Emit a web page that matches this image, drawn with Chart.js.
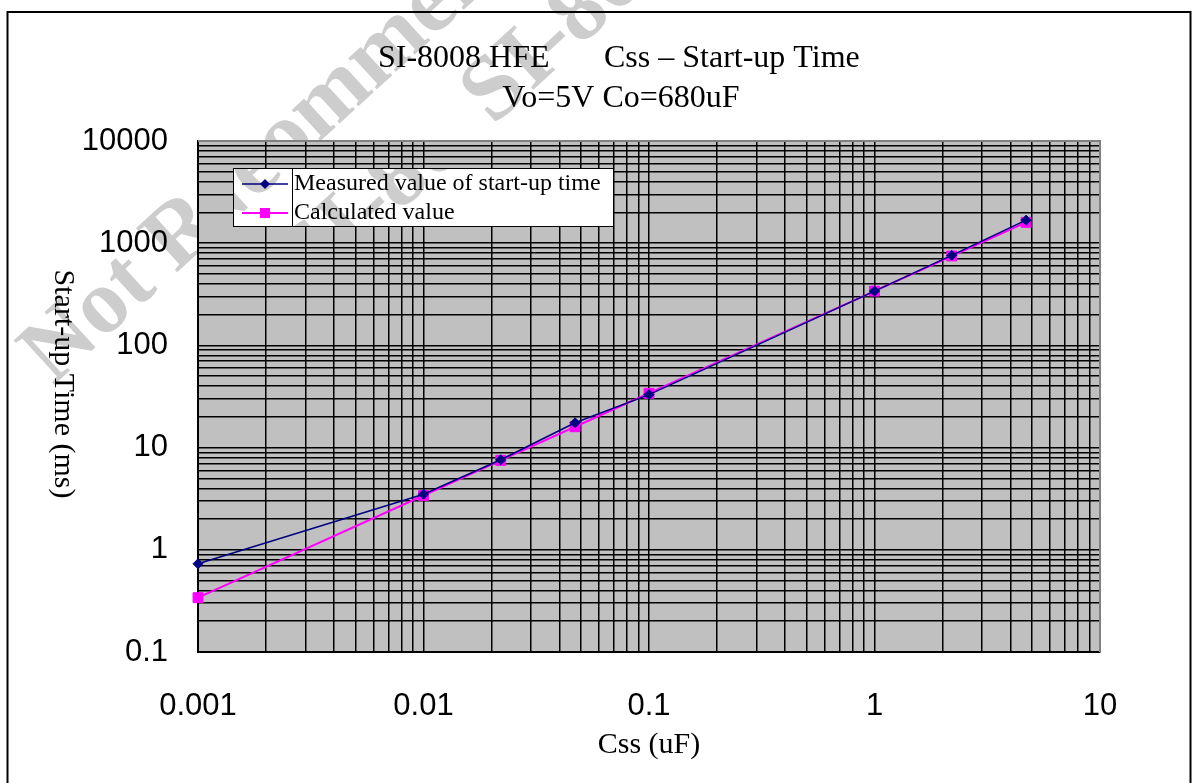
<!DOCTYPE html>
<html>
<head>
<meta charset="utf-8">
<script src="https://cdn.jsdelivr.net/npm/chart.js@4/dist/chart.umd.min.js"></script>
<style>
  html, body { margin: 0; padding: 0; background: #fff; }
</style>
</head>
<body>
<canvas id="startupChart" width="1194" height="783"></canvas>
<script>
// Css (uF) at each measured point
const cssValues = [0.001, 0.01, 0.022, 0.047, 0.1, 1, 2.2, 4.7];
// Start-up time (ms), measured
const measuredTimes = [0.73, 3.5, 7.6, 17.5, 33, 340, 760, 1680];
// Start-up time (ms), calculated
const calculatedTimes = [0.34, 3.4, 7.5, 16, 34, 340, 750, 1600];

const xTickLabels = ['0.001', '0.01', '0.1', '1', '10'];
const yTickLabels = ['0.1', '1', '10', '100', '1000', '10000'];
const seriesNames = ['Measured value of start-up time', 'Calculated value'];
const titleLeft = 'SI-8008 HFE';
const titleRight = 'Css \u2013 Start-up Time';
const subTitle = 'Vo=5V Co=680uF';
const xAxisTitle = 'Css (uF)';
const yAxisTitle = 'Start-up Time (ms)';

const serif = '"Liberation Serif", "Times New Roman", serif';
const sans = '"Liberation Sans", Arial, sans-serif';

// gridlines at 1..9 of every decade between first and last label
function logGrid(labels) {
  const lo = Math.round(Math.log10(Number(labels[0])));
  const hi = Math.round(Math.log10(Number(labels[labels.length - 1])));
  const vals = [];
  for (let e = lo; e < hi; e++) {
    for (let m = 1; m < 10; m++) vals.push(Number((m * Math.pow(10, e)).toPrecision(10)));
  }
  vals.push(Number(labels[labels.length - 1]));
  return vals;
}
function labelFor(labels, v) {
  const i = labels.map(Number).indexOf(v);
  return i >= 0 ? labels[i] : '';
}

function drawWatermark(c) {
  c.save();
  c.translate(53, 386);
  c.rotate(-42.5 * Math.PI / 180);
  c.fillStyle = '#cdcdcd';
  c.font = 'bold 92px ' + serif;
  c.fillText('Not Recommended for New Designs', 0, 0);
  c.fillText('SI-8008HFE', 500, 106);
  c.restore();
}

// watermark under everything, then the grey plot area
const backdrop = {
  id: 'backdrop',
  beforeDraw(chart) {
    const c = chart.ctx, a = chart.chartArea;
    drawWatermark(c);
    c.save();
    c.fillStyle = '#c0c0c0';
    c.fillRect(a.left, a.top, a.right - a.left, a.bottom - a.top);
    c.restore();
  }
};

const decorations = {
  id: 'decorations',
  afterDraw(chart) {
    const c = chart.ctx, a = chart.chartArea;
    c.save();
    // grey top/right frame of plot
    c.strokeStyle = '#808080';
    c.lineWidth = 2;
    c.beginPath();
    c.moveTo(a.left, a.top);
    c.lineTo(a.right, a.top);
    c.lineTo(a.right, a.bottom);
    c.stroke();

    // titles
    c.fillStyle = '#000';
    c.font = '32px ' + serif;
    c.textBaseline = 'alphabetic';
    c.textAlign = 'left';
    c.fillText(titleLeft, 378, 67);
    c.fillText(titleRight, 604, 67);
    c.textAlign = 'center';
    c.fillText(subTitle, 621, 107);

    c.font = '30px ' + serif;
    c.fillText(xAxisTitle, 649, 753);
    c.save();
    c.translate(55, 384);
    c.rotate(Math.PI / 2);
    c.fillText(yAxisTitle, 0, 0);
    c.restore();

    // legend
    const lg = { left: 233, mid: 292, right: 613, top: 168, bottom: 226 };
    c.fillStyle = '#fff';
    c.fillRect(lg.left, lg.top, lg.right - lg.left, lg.bottom - lg.top);
    c.save();
    c.beginPath();
    c.rect(lg.left, lg.top, lg.right - lg.left, lg.bottom - lg.top);
    c.clip();
    drawWatermark(c);
    c.restore();
    c.strokeStyle = '#000';
    c.lineWidth = 1;
    c.strokeRect(lg.left + 0.5, lg.top + 0.5, lg.mid - lg.left, lg.bottom - lg.top);
    c.strokeRect(lg.mid + 0.5, lg.top + 0.5, lg.right - lg.mid, lg.bottom - lg.top);
    const rows = [184, 213];
    chart.data.datasets.forEach((ds, i) => {
      const y = rows[i];
      c.strokeStyle = ds.borderColor;
      c.lineWidth = ds.borderWidth;
      c.beginPath();
      c.moveTo(242, y);
      c.lineTo(288, y);
      c.stroke();
      c.fillStyle = ds.borderColor;
      c.beginPath();
      if (ds.pointStyle === 'rectRot') {
        c.moveTo(265 - 5, y); c.lineTo(265, y - 5); c.lineTo(265 + 5, y); c.lineTo(265, y + 5);
      } else {
        c.rect(265 - 5, y - 5, 10, 10);
      }
      c.closePath();
      c.fill();
      c.fillStyle = '#000';
      c.font = '24px ' + serif;
      c.textAlign = 'left';
      c.textBaseline = 'middle';
      c.fillText(ds.label, 294, y);
    });

    // outer frame
    c.strokeStyle = '#000';
    c.lineWidth = 2;
    c.strokeRect(7.5, 12, 1183, 800);
    c.restore();
  }
};

const xGrid = logGrid(xTickLabels);
const yGrid = logGrid(yTickLabels);

new Chart(document.getElementById('startupChart'), {
  type: 'line',
  data: {
    datasets: [{
      label: seriesNames[0],
      data: cssValues.map((c, i) => ({ x: c, y: measuredTimes[i] })),
      borderColor: '#000080',
      backgroundColor: '#000080',
      borderWidth: 1.5,
      pointStyle: 'rectRot',
      pointRadius: 5,
      pointBorderWidth: 1,
      clip: false
    }, {
      label: seriesNames[1],
      data: cssValues.map((c, i) => ({ x: c, y: calculatedTimes[i] })),
      borderColor: '#ff00ff',
      backgroundColor: '#ff00ff',
      borderWidth: 2,
      pointStyle: 'rect',
      pointRadius: 7,
      pointBorderWidth: 1,
      clip: false
    }]
  },
  options: {
    responsive: false,
    animation: false,
    layout: { padding: { top: 141, right: 94, bottom: 0, left: 0 } },
    plugins: {
      legend: { display: false },
      tooltip: { enabled: false },
      title: { display: false }
    },
    scales: {
      x: {
        type: 'logarithmic',
        min: 0.001,
        max: 10,
        afterBuildTicks: s => { s.ticks = xGrid.map(v => ({ value: v })); },
        afterFit: s => { s.height = 131; },
        grid: { color: '#000', lineWidth: 1.5, drawTicks: false },
        border: { color: '#000', width: 2 },
        ticks: {
          autoSkip: false, maxRotation: 0, padding: 36, color: '#000',
          font: { family: sans, size: 31 },
          callback: v => labelFor(xTickLabels, v)
        }
      },
      y: {
        type: 'logarithmic',
        min: 0.1,
        max: 10000,
        afterBuildTicks: s => { s.ticks = yGrid.map(v => ({ value: v })); },
        afterFit: s => { s.width = 198; },
        grid: { color: '#000', lineWidth: 1.5, drawTicks: false },
        border: { color: '#000', width: 2 },
        ticks: {
          autoSkip: false, padding: 30, color: '#000',
          font: { family: sans, size: 31 },
          callback: v => labelFor(yTickLabels, v)
        }
      }
    }
  },
  plugins: [backdrop, decorations]
});
</script>
</body>
</html>
